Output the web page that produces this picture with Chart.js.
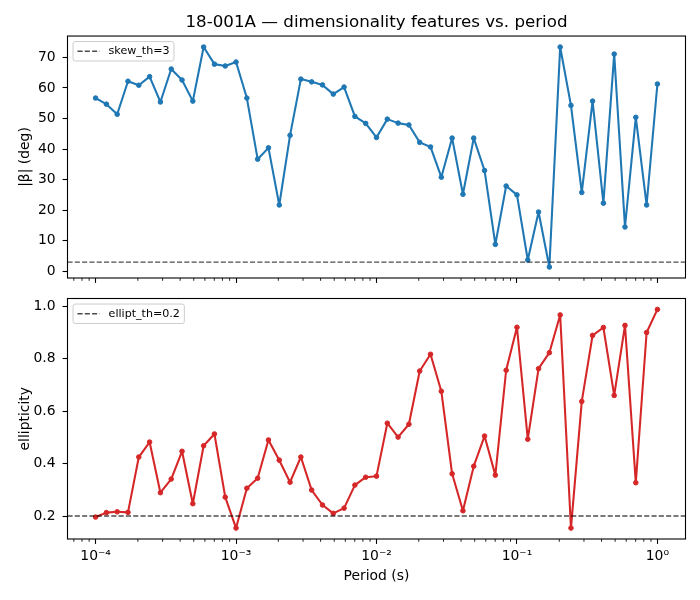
<!DOCTYPE html>
<html>
<head>
<meta charset="utf-8">
<script src="https://cdn.jsdelivr.net/npm/chart.js@4.4.0/dist/chart.umd.min.js"></script>
<style>
  html, body { margin: 0; padding: 0; background: #fff; }
  #wrap { position: relative; width: 700px; height: 600px; }
  canvas { position: absolute; left: 0; }
</style>
</head>
<body>
<div id="wrap">
  <canvas id="chartBeta" width="700" height="290" style="top:0"></canvas>
  <canvas id="chartEllipt" width="700" height="310" style="top:290px"></canvas>
</div>
<script>
// ===== dados =====
const periods = [
  1.000e-4, 1.194e-4, 1.425e-4, 1.701e-4, 2.031e-4, 2.424e-4, 2.894e-4, 3.455e-4, 4.125e-4, 4.924e-4, 5.878e-4, 7.017e-4, 8.377e-4,
  1.000e-3, 1.194e-3, 1.425e-3, 1.701e-3, 2.031e-3, 2.424e-3, 2.894e-3, 3.455e-3, 4.125e-3, 4.924e-3, 5.878e-3, 7.017e-3, 8.377e-3,
  1.000e-2, 1.194e-2, 1.425e-2, 1.701e-2, 2.031e-2, 2.424e-2, 2.894e-2, 3.455e-2, 4.125e-2, 4.924e-2, 5.878e-2, 7.017e-2, 8.377e-2,
  1.000e-1, 1.194e-1, 1.425e-1, 1.701e-1, 2.031e-1, 2.424e-1, 2.894e-1, 3.455e-1, 4.125e-1, 4.924e-1, 5.878e-1, 7.017e-1, 8.377e-1,
  1.0
];
const betaDeg = [
  56.7, 54.7, 51.4, 62.2, 60.9, 63.7, 55.4, 66.2, 62.6, 55.7, 73.4, 67.8, 67.2,
  68.5, 56.7, 36.7, 40.4, 21.7, 44.5, 62.9, 62.0, 61.0, 58.0, 60.3, 50.7, 48.4,
  43.8, 49.8, 48.5, 47.9, 42.2, 40.7, 30.8, 43.6, 25.2, 43.6, 33.0, 8.8, 27.9,
  25.0, 3.7, 19.4, 1.4, 73.4, 54.3, 25.8, 55.7, 22.3, 71.1, 14.5, 50.4, 21.7,
  61.3
];
const ellipticity = [
  0.196, 0.213, 0.216, 0.214, 0.425, 0.482, 0.289, 0.341, 0.447, 0.247, 0.468, 0.513, 0.272,
  0.154, 0.306, 0.344, 0.490, 0.413, 0.329, 0.425, 0.299, 0.242, 0.210, 0.230, 0.318, 0.348,
  0.352, 0.554, 0.501, 0.550, 0.753, 0.817, 0.676, 0.361, 0.220, 0.390, 0.505, 0.356, 0.756,
  0.920, 0.493, 0.762, 0.823, 0.967, 0.154, 0.637, 0.889, 0.919, 0.660, 0.927, 0.327, 0.900,
  0.988
];
const skewTh = 3;
const elliptTh = 0.2;
const xMajorTicks = [1e-4, 1e-3, 1e-2, 1e-1, 1];
const xTickLabels = ['10⁻⁴', '10⁻³', '10⁻²', '10⁻¹', '10⁰'];
const betaTicks = [0, 10, 20, 30, 40, 50, 60, 70];
const elliptTicks = [0.2, 0.4, 0.6, 0.8, 1.0];

const FONT = '"DejaVu Sans", sans-serif';
Chart.defaults.font.family = FONT;
Chart.defaults.font.size = 13.9;
Chart.defaults.color = '#000';

// limites do eixo x (log) com margem de 5%, como no matplotlib
const logMin = Math.log10(Math.min(...periods));
const logMax = Math.log10(Math.max(...periods));
const logPad = (logMax - logMin) * 0.05;
const xMin = Math.pow(10, logMin - logPad);
const xMax = Math.pow(10, logMax + logPad);

function yLimits(values, th) {
    const lo = Math.min(th, ...values);
    const hi = Math.max(th, ...values);
    const pad = (hi - lo) * 0.05;
    return [lo - pad, hi + pad];
}

function xTickList() {
    const ticks = xMajorTicks.map(v => ({ value: v, major: true }));
    for (let e = Math.floor(Math.log10(xMin)); e <= Math.ceil(Math.log10(xMax)); e++) {
        for (let m = 2; m <= 9; m++) {
            const v = m * Math.pow(10, e);
            if (v > xMin && v < xMax) ticks.push({ value: v, major: false });
        }
    }
    return ticks.sort((a, b) => a.value - b.value);
}

function xLabel(value) {
    const j = xMajorTicks.findIndex(m => Math.abs(Math.log10(m) - Math.log10(value)) < 1e-6);
    return j >= 0 ? xTickLabels[j] : '';
}

// tamanho fixo dos eixos, sem o padding automático dos rótulos
function fixWidth(w) {
    return s => { s.width = w; s.paddingTop = 0; s.paddingBottom = 0; s.paddingLeft = 0; s.paddingRight = 0; };
}
function fixHeight(h) {
    return s => { s.height = h; s.paddingTop = 0; s.paddingBottom = 0; s.paddingLeft = 0; s.paddingRight = 0; };
}

// moldura completa + ticks menores do eixo x
const framePlugin = {
    id: 'frame',
    afterDraw(chart) {
        const { ctx, chartArea: a } = chart;
        ctx.save();
        ctx.strokeStyle = '#000';
        ctx.lineWidth = 1.1;
        ctx.strokeRect(a.left, a.top, a.right - a.left, a.bottom - a.top);
        const xs = chart.scales.x;
        ctx.lineWidth = 0.85;
        xs.ticks.forEach(t => {
            if (t.major) return;
            const px = xs.getPixelForValue(t.value);
            ctx.beginPath();
            ctx.moveTo(px, a.bottom);
            ctx.lineTo(px, a.bottom + 2.8);
            ctx.stroke();
        });
        ctx.restore();
    }
};

// legenda com caixa, dentro da área do gráfico (canto superior esquerdo)
const legendBox = {
    id: 'legendBox',
    afterDraw(chart) {
        const items = chart.data.datasets.filter(d => d.inLegend);
        if (!items.length) return;
        const { ctx, chartArea: a } = chart;
        const fs = 11.1;
        ctx.save();
        ctx.font = fs + 'px ' + FONT;
        const textW = Math.max(...items.map(d => ctx.measureText(d.label).width));
        const pad = 0.4 * fs, handle = 2 * fs, gap = 0.8 * fs, rowH = 0.95 * fs;
        const x0 = a.left + 0.5 * fs, y0 = a.top + 0.5 * fs;
        const w = pad + handle + gap + textW + pad;
        const h = 2 * pad + rowH * items.length;
        const r = 2.2;
        ctx.beginPath();
        ctx.moveTo(x0 + r, y0);
        ctx.lineTo(x0 + w - r, y0);
        ctx.arcTo(x0 + w, y0, x0 + w, y0 + r, r);
        ctx.lineTo(x0 + w, y0 + h - r);
        ctx.arcTo(x0 + w, y0 + h, x0 + w - r, y0 + h, r);
        ctx.lineTo(x0 + r, y0 + h);
        ctx.arcTo(x0, y0 + h, x0, y0 + h - r, r);
        ctx.lineTo(x0, y0 + r);
        ctx.arcTo(x0, y0, x0 + r, y0, r);
        ctx.closePath();
        ctx.fillStyle = 'rgba(255,255,255,0.8)';
        ctx.fill();
        ctx.strokeStyle = '#cccccc';
        ctx.lineWidth = 1;
        ctx.stroke();
        items.forEach((d, i) => {
            const cy = y0 + pad + rowH * (i + 0.5);
            ctx.beginPath();
            ctx.setLineDash(d.borderDash || []);
            ctx.strokeStyle = d.borderColor;
            ctx.lineWidth = d.borderWidth;
            ctx.moveTo(x0 + pad, cy);
            ctx.lineTo(x0 + pad + handle, cy);
            ctx.stroke();
            ctx.setLineDash([]);
            ctx.fillStyle = '#000';
            ctx.textBaseline = 'middle';
            ctx.textAlign = 'left';
            ctx.fillText(d.label, x0 + pad + handle + gap, cy);
        });
        ctx.restore();
    }
};

const tickGrid = {
    drawOnChartArea: false,
    drawTicks: true,
    tickLength: 4.9,
    tickWidth: 1.1,
    tickColor: '#000'
};

const xGrid = Object.assign({}, tickGrid, {
    tickColor: c => (c.tick && c.tick.major) ? '#000' : 'rgba(0,0,0,0)'
});

function thresholdDataset(label, value) {
    return {
        label: label,
        data: [{ x: xMin, y: value }, { x: xMax, y: value }],
        borderColor: 'rgba(0,0,0,0.7)',
        borderWidth: 1.39,
        borderDash: [5.1, 2.2],
        pointRadius: 0,
        inLegend: true
    };
}

function seriesDataset(label, values, color) {
    return {
        label: label,
        data: periods.map((p, i) => ({ x: p, y: values[i] })),
        borderColor: color,
        backgroundColor: color,
        borderWidth: 2.08,
        borderJoinStyle: 'round',
        pointRadius: 2.3,
        pointBorderWidth: 1,
        tension: 0
    };
}

// ===== gráfico de cima: |beta| =====
const [betaMin, betaMax] = yLimits(betaDeg, skewTh);
new Chart(document.getElementById('chartBeta'), {
    type: 'line',
    data: {
        datasets: [
            thresholdDataset('skew_th=' + skewTh, skewTh),
            seriesDataset('|β|', betaDeg, '#1f77b4')
        ]
    },
    options: {
        responsive: false,
        animation: false,
        events: [],
        layout: { padding: { left: 0, right: 14.5, top: 0, bottom: 0 } },
        plugins: {
            legend: { display: false },
            tooltip: { enabled: false },
            title: {
                display: true,
                fullSize: false,
                text: '18-001A — dimensionality features vs. period',
                font: { size: 16.7, weight: 'normal' },
                color: '#000',
                padding: { top: 12.5, bottom: 3.5 }
            }
        },
        scales: {
            x: {
                type: 'logarithmic',
                min: xMin,
                max: xMax,
                afterBuildTicks: s => { s.ticks = xTickList(); },
                afterFit: fixHeight(12),
                grid: xGrid,
                border: { display: false },
                ticks: { display: false, autoSkip: false }
            },
            y: {
                min: betaMin,
                max: betaMax,
                afterBuildTicks: s => { s.ticks = betaTicks.map(v => ({ value: v })); },
                afterFit: fixWidth(67.5),
                grid: tickGrid,
                border: { display: false },
                ticks: { padding: 7, callback: v => String(v) },
                title: { display: true, text: '|β| (deg)', padding: { top: 16.7, bottom: 0 } }
            }
        }
    },
    plugins: [framePlugin, legendBox]
});

// ===== gráfico de baixo: elipticidade =====
const [ellMin, ellMax] = yLimits(ellipticity, elliptTh);
new Chart(document.getElementById('chartEllipt'), {
    type: 'line',
    data: {
        datasets: [
            thresholdDataset('ellipt_th=' + elliptTh, elliptTh),
            seriesDataset('ellipticity', ellipticity, '#d62728')
        ]
    },
    options: {
        responsive: false,
        animation: false,
        events: [],
        layout: { padding: { left: 0, right: 14.5, top: 8.5, bottom: 0 } },
        plugins: {
            legend: { display: false },
            tooltip: { enabled: false }
        },
        scales: {
            x: {
                type: 'logarithmic',
                min: xMin,
                max: xMax,
                afterBuildTicks: s => { s.ticks = xTickList(); },
                afterFit: fixHeight(61),
                grid: xGrid,
                border: { display: false },
                ticks: { autoSkip: false, maxRotation: 0, minRotation: 0, padding: 4.5, callback: v => xLabel(v) },
                title: { display: true, text: 'Period (s)', padding: { top: 0, bottom: 15.7 } }
            },
            y: {
                min: ellMin,
                max: ellMax,
                afterBuildTicks: s => { s.ticks = elliptTicks.map(v => ({ value: v })); },
                afterFit: fixWidth(67.5),
                grid: tickGrid,
                border: { display: false },
                ticks: { padding: 7, callback: v => v.toFixed(1) },
                title: { display: true, text: 'ellipticity', padding: { top: 16.7, bottom: 0 } }
            }
        }
    },
    plugins: [framePlugin, legendBox]
});
</script>
</body>
</html>
